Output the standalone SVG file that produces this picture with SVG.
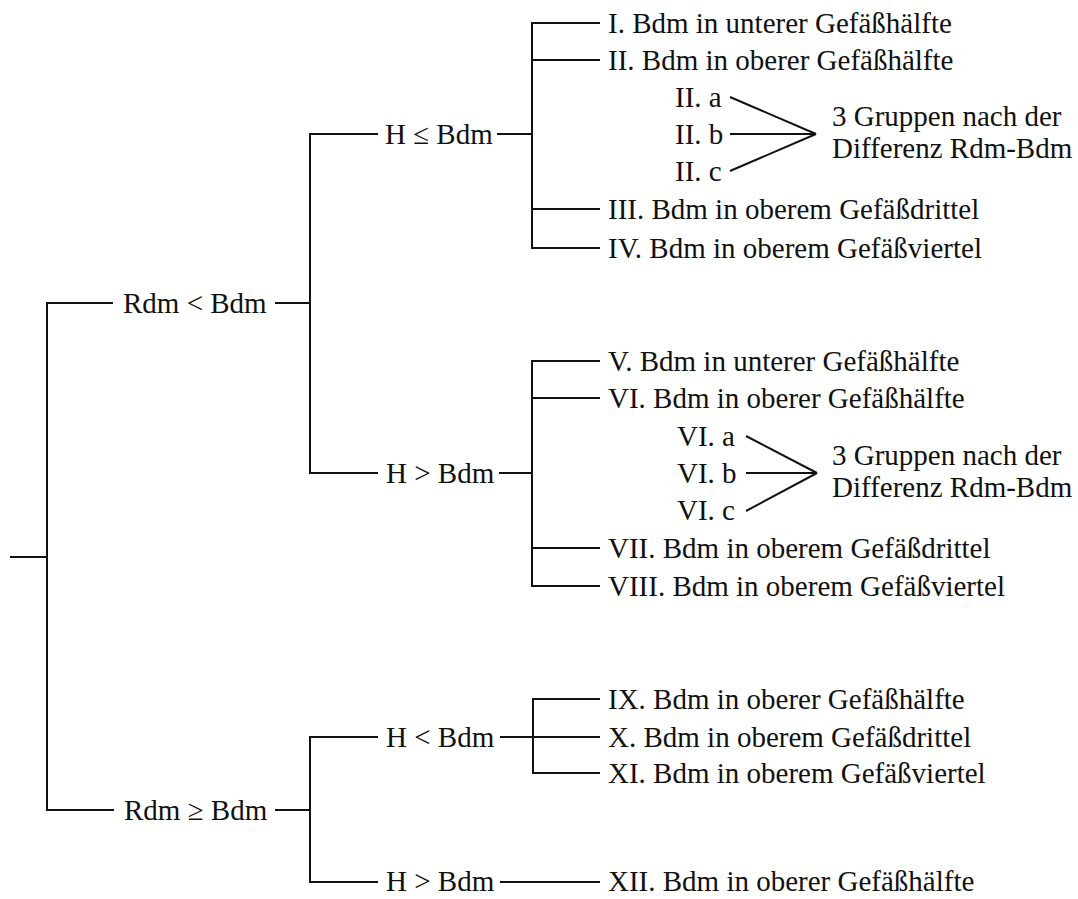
<svg xmlns="http://www.w3.org/2000/svg" width="1078" height="899" viewBox="0 0 1078 899">
<style>
text{font-family:"Liberation Serif","Times New Roman",serif;font-size:29px;fill:#111}
.c path,.c line{stroke:#111;stroke-width:2;fill:none;stroke-linejoin:miter}
</style>
<rect width="1078" height="899" fill="#fff"/>
<g class="c" id="connectors">
<line x1="10" y1="557" x2="47" y2="557"/>
<path d="M113,303 H47 V810 H114"/>
<line x1="275" y1="303" x2="310" y2="303"/>
<line x1="275" y1="810" x2="310" y2="810"/>
<path d="M378,134 H310 V473 H378"/>
<path d="M378,737 H310 V882 H378"/>
<line x1="497" y1="134" x2="532" y2="134"/>
<line x1="499" y1="473" x2="532" y2="473"/>
<line x1="500" y1="737" x2="600" y2="737"/>
<line x1="500" y1="882" x2="600" y2="882"/>
<path d="M600,23 H532 V248 H600"/>
<line x1="532" y1="60" x2="600" y2="60"/>
<line x1="532" y1="209" x2="600" y2="209"/>
<path d="M600,361 H532 V586 H600"/>
<line x1="532" y1="398" x2="600" y2="398"/>
<line x1="532" y1="548" x2="600" y2="548"/>
<path d="M600,699 H533 V773 H600"/>
<line x1="730" y1="97" x2="816" y2="134"/>
<line x1="730" y1="134" x2="816" y2="134"/>
<line x1="730" y1="171" x2="816" y2="134"/>
<line x1="746" y1="436" x2="817" y2="473"/>
<line x1="746" y1="473" x2="817" y2="473"/>
<line x1="746" y1="511" x2="817" y2="473"/>
</g>
<g id="n-rdm-lt"><text x="123" y="313">Rdm &lt; Bdm</text></g>
<g id="n-rdm-ge"><text x="124" y="820">Rdm ≥ Bdm</text></g>
<g id="n-h-le"><text x="385" y="144">H ≤ Bdm</text></g>
<g id="n-h-gt1"><text x="386" y="483">H &gt; Bdm</text></g>
<g id="n-h-lt"><text x="386" y="747">H &lt; Bdm</text></g>
<g id="n-h-gt2"><text x="386" y="891">H &gt; Bdm</text></g>
<g id="n-I"><text x="608" y="33">I. Bdm in unterer Gefäßhälfte</text></g>
<g id="n-II"><text x="608" y="70">II. Bdm in oberer Gefäßhälfte</text></g>
<g id="n-IIa"><text x="675" y="107">II. a</text></g>
<g id="n-IIb"><text x="675" y="144">II. b</text></g>
<g id="n-IIc"><text x="675" y="181">II. c</text></g>
<g id="n-grp1"><text x="832" y="126">3 Gruppen nach der</text><text x="832" y="158">Differenz Rdm-Bdm</text></g>
<g id="n-III"><text x="608" y="219">III. Bdm in oberem Gefäßdrittel</text></g>
<g id="n-IV"><text x="608" y="258">IV. Bdm in oberem Gefäßviertel</text></g>
<g id="n-V"><text x="608" y="371">V. Bdm in unterer Gefäßhälfte</text></g>
<g id="n-VI"><text x="608" y="408">VI. Bdm in oberer Gefäßhälfte</text></g>
<g id="n-VIa"><text x="677" y="446">VI. a</text></g>
<g id="n-VIb"><text x="677" y="483">VI. b</text></g>
<g id="n-VIc"><text x="677" y="520">VI. c</text></g>
<g id="n-grp2"><text x="832" y="465">3 Gruppen nach der</text><text x="832" y="497">Differenz Rdm-Bdm</text></g>
<g id="n-VII"><text x="608" y="558">VII. Bdm in oberem Gefäßdrittel</text></g>
<g id="n-VIII"><text x="608" y="596">VIII. Bdm in oberem Gefäßviertel</text></g>
<g id="n-IX"><text x="608" y="709">IX. Bdm in oberer Gefäßhälfte</text></g>
<g id="n-X"><text x="608" y="747">X. Bdm in oberem Gefäßdrittel</text></g>
<g id="n-XI"><text x="608" y="783">XI. Bdm in oberem Gefäßviertel</text></g>
<g id="n-XII"><text x="608" y="891">XII. Bdm in oberer Gefäßhälfte</text></g>
</svg>
